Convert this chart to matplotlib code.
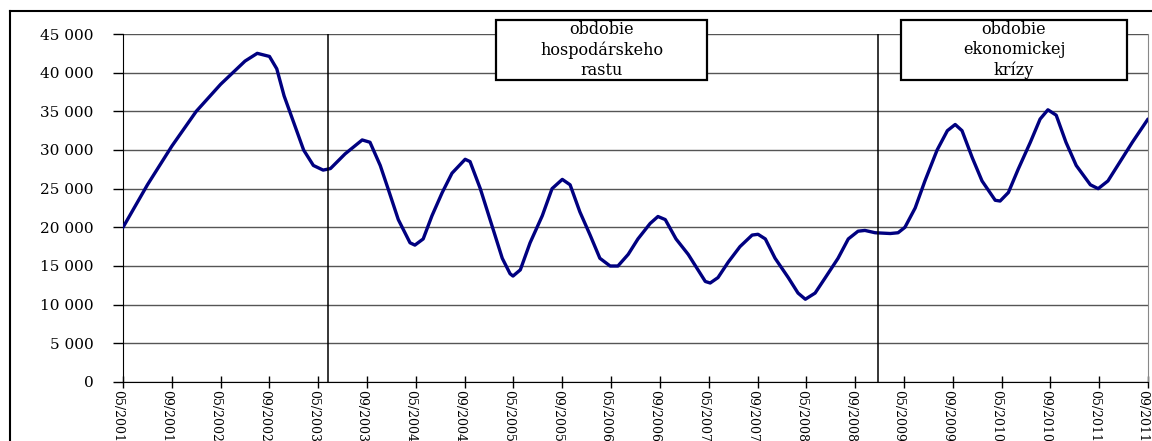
import matplotlib
matplotlib.use("Agg")
import matplotlib.pyplot as plt
import matplotlib.transforms as mtransforms
from matplotlib.patches import Rectangle
from matplotlib.lines import Line2D

# tick labels (category axis, one tick per label)
tick_labels = ["05/2001", "09/2001", "05/2002", "09/2002", "05/2003", "09/2003",
               "05/2004", "09/2004", "05/2005", "09/2005", "05/2006", "09/2006",
               "05/2007", "09/2007", "05/2008", "09/2008", "05/2009", "09/2009",
               "05/2010", "09/2010", "05/2011", "09/2011"]

# series: position in tick units, value
pos = [0.0, 0.5, 1.0, 1.5, 2.0, 2.5, 2.75, 3.0, 3.15, 3.3, 3.5, 3.7, 3.9, 4.1, 4.25,
       4.55, 4.9, 5.06, 5.27, 5.43, 5.64, 5.88, 5.98, 6.15, 6.33, 6.54, 6.74,
       7.01, 7.11, 7.32, 7.52, 7.77, 7.93, 7.99, 8.14, 8.34, 8.59, 8.79,
       9.0, 9.16, 9.36, 9.57, 9.77, 9.98, 10.14, 10.35, 10.55, 10.8,
       10.96, 11.11, 11.33, 11.58, 11.78, 11.93, 12.03, 12.19, 12.4, 12.64, 12.89,
       13.01, 13.16, 13.36, 13.63, 13.83, 13.98, 14.18, 14.39, 14.65, 14.86,
       15.06, 15.2, 15.41, 15.72, 15.88, 16.02, 16.23, 16.43, 16.68, 16.89,
       17.05, 17.19, 17.4, 17.6, 17.87, 17.97, 18.14, 18.34, 18.59, 18.79,
       18.95, 19.12, 19.32, 19.53, 19.82, 19.98, 20.18, 20.43, 20.68, 21.0]
values = [20000, 25500, 30500, 35000, 38500, 41500, 42500, 42100, 40500, 37000, 33500,
          30000, 28000, 27400, 27600,
          29500, 31300, 31000, 28000, 25000, 21000, 18000, 17700, 18500, 21500, 24500, 27000,
          28800, 28500, 25000, 21000, 16000, 14000, 13700, 14500, 18000, 21500, 25000,
          26200, 25500, 22000, 19000, 16000, 15000, 15000, 16500, 18500, 20500,
          21400, 21000, 18500, 16500, 14500, 13000, 12800, 13500, 15500, 17500, 19000,
          19100, 18500, 16000, 13500, 11500, 10700, 11500, 13500, 16000, 18500,
          19500, 19600, 19300, 19200, 19300, 20000, 22500, 26000, 30000, 32500,
          33300, 32500, 29000, 26000, 23500, 23400, 24500, 27500, 31000, 34000,
          35200, 34500, 31000, 28000, 25500, 25000, 26000, 28500, 31000, 34000]

period_marks = [4.2, 15.47]
period_texts = ["obdobie\nhospodárskeho\nrastu", "obdobie\nekonomickej\nkrízy"]

SERIF = ["DejaVu Serif"]

fig = plt.figure(figsize=(11.52, 4.41), dpi=100)
ax = fig.add_axes([0.1068, 0.1338, 0.8897, 0.7891])

ax.plot(pos, values, color="#000080", lw=2.4, solid_joinstyle="round",
        solid_capstyle="round", zorder=3)
for m in period_marks:
    ax.axvline(m, color="black", lw=1.1, zorder=4)

ax.set_xlim(0, 21)
ax.set_ylim(0, 45000)
ax.set_yticks(range(0, 45001, 5000))
ax.set_yticklabels([f"{v:,}".replace(",", " ") for v in range(0, 45001, 5000)],
                   family=SERIF, fontsize=11)
ax.set_xticks(range(len(tick_labels)))
ax.set_xticklabels(tick_labels, rotation=270, family=SERIF, fontsize=9,
                   ha="center", va="top")
ax.tick_params(axis="y", direction="out", length=7, pad=14, width=1)
ax.tick_params(axis="x", direction="inout", length=8, pad=2, width=1)
# labels sit a little left of their ticks, as in the original
shift = mtransforms.ScaledTranslation(-5 / 100, 0, fig.dpi_scale_trans)
for lbl in ax.get_xticklabels():
    lbl.set_transform(lbl.get_transform() + shift)
ax.yaxis.grid(True, color="#555555", lw=1.0)
ax.set_axisbelow(True)
ax.spines["top"].set_visible(False)
ax.spines["right"].set_color("#888888")
ax.spines["left"].set_color("black")
ax.spines["bottom"].set_color("black")

# annotation boxes (figure pixel positions)
W, H = 1152, 441
for (x0, x1), txt in zip([(496, 707), (901, 1127)], period_texts):
    fig.add_artist(Rectangle((x0 / W, 1 - 80 / H), (x1 - x0) / W, 60 / H,
                             transform=fig.transFigure, facecolor="white",
                             edgecolor="black", lw=1.6, zorder=5))
    fig.text((x0 + x1) / 2 / W, 1 - 50 / H, txt, ha="center", va="center",
             family=SERIF, fontsize=11.5, linespacing=1.25, zorder=6)

# outer chart frame
fig.add_artist(Line2D([10 / W, 10 / W], [0, 1 - 11 / H], color="black", lw=1.5))
fig.add_artist(Line2D([10 / W, 1], [1 - 11 / H, 1 - 11 / H], color="black", lw=1.5))

fig.savefig("out.png", dpi=100)
